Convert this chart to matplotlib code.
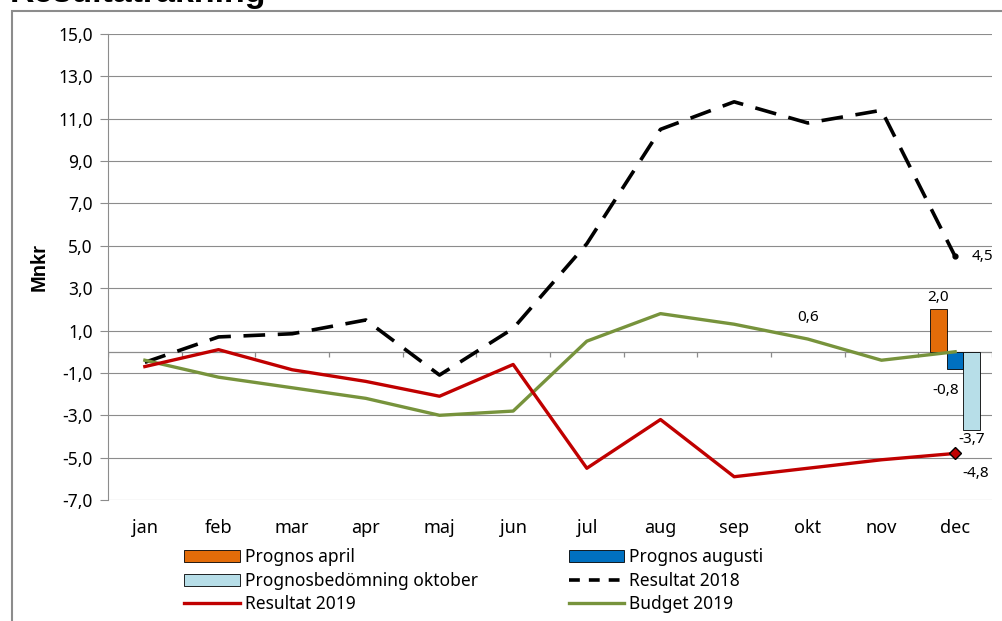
import numpy as np
import matplotlib.pyplot as plt
from matplotlib.patches import Patch, Rectangle
from matplotlib.lines import Line2D

# data
months = ["jan", "feb", "mar", "apr", "maj", "jun", "jul", "aug", "sep", "okt", "nov", "dec"]
resultat_2018 = [-0.5, 0.7, 0.85, 1.5, -1.1, 1.1, 5.1, 10.5, 11.8, 10.8, 11.4, 4.5]
resultat_2019 = [-0.7, 0.1, -0.85, -1.4, -2.1, -0.6, -5.5, -3.2, -5.9, -5.5, -5.1, -4.8]
budget_2019 = [-0.4, -1.2, -1.7, -2.2, -3.0, -2.8, 0.5, 1.8, 1.3, 0.6, -0.4, 0.0]
prognos_april = 2.0
prognos_augusti = -0.8
prognos_oktober = -3.7

plt.rcParams['font.family'] = ['Noto Sans', 'DejaVu Sans']

fig = plt.figure(figsize=(10.03, 6.21), dpi=100)
ax = fig.add_axes([0.1077, 0.1948, 0.8813, 0.7504])

x = np.arange(len(months))

# grid
for v in np.arange(-7, 16, 2):
    ax.axhline(v, color="#8c8c8c", lw=0.8, zorder=0)
ax.axhline(0, color="#8c8c8c", lw=0.9, zorder=1)
bounds = np.arange(len(months) + 1) - 0.5
ax.vlines(bounds, -0.25, 0, color="#8c8c8c", lw=0.9, zorder=1)

# staplar i december
w = 0.225
d = x[-1]
ax.bar(d - w, prognos_april, w, color="#E36C09", edgecolor="black", lw=0.6, zorder=2)
ax.bar(d, prognos_augusti, w, color="#0070C0", edgecolor="black", lw=0.6, zorder=2)
ax.bar(d + w, prognos_oktober, w, color="#B7DEE8", edgecolor="black", lw=0.6, zorder=2)

# linjer
ax.plot(x, resultat_2018, color="black", lw=2.6, dashes=(6, 3.5), zorder=3)
ax.plot(x[-1], resultat_2018[-1], "o", color="black", ms=3.5, zorder=4)
ax.plot(x, budget_2019, color="#77933C", lw=2.4, zorder=3)
ax.plot(x, resultat_2019, color="#C00000", lw=2.4, zorder=3)
ax.plot(x[-1], resultat_2019[-1], "D", color="#C00000", mec="black", mew=1, ms=6, zorder=4)

def fmt(v):
    return f"{v:.1f}".replace(".", ",")

lab_kw = dict(fontsize=11, color="black", zorder=5)
ax.annotate(fmt(resultat_2018[-1]), (x[-1], resultat_2018[-1]), xytext=(12, 0),
            textcoords="offset points", va="center", ha="left", **lab_kw)
ax.annotate(fmt(prognos_april), (d - w, prognos_april), xytext=(0, 3),
            textcoords="offset points", va="bottom", ha="center", **lab_kw)
ax.annotate(fmt(prognos_augusti), (d, prognos_augusti), xytext=(-7, -10),
            textcoords="offset points", va="top", ha="center", **lab_kw)
ax.annotate(fmt(prognos_oktober), (d + w, prognos_oktober), xytext=(0, -1),
            textcoords="offset points", va="top", ha="center", **lab_kw)
ax.annotate(fmt(resultat_2019[-1]), (x[-1], resultat_2019[-1]), xytext=(15, -9),
            textcoords="offset points", va="top", ha="center", **lab_kw)
ax.annotate(fmt(budget_2019[9]), (x[9], budget_2019[9]), xytext=(0, 10),
            textcoords="offset points", va="bottom", ha="center", **lab_kw)

# axlar
ax.set_xlim(-0.5, len(months) - 0.5)
ax.set_ylim(-7, 15)
ax.set_yticks(np.arange(-7, 16, 2))
ax.set_yticklabels([fmt(v) for v in np.arange(-7, 16, 2)], fontsize=12.5)
ax.set_xticks(x)
ax.set_xticklabels(months, fontsize=13)
ax.tick_params(axis="x", length=0, pad=14)
ax.tick_params(axis="y", length=6, color="#8c8c8c", pad=5)
for s in ["top", "right", "bottom"]:
    ax.spines[s].set_visible(False)
ax.spines["left"].set_color("#8c8c8c")
ax.set_ylabel("Mnkr", fontsize=14.5, fontweight="bold", family="Liberation Sans", labelpad=7)

# legend
handles = [
    Patch(facecolor="#E36C09", edgecolor="black", lw=0.6, label="Prognos april"),
    Patch(facecolor="#B7DEE8", edgecolor="black", lw=0.6, label="Prognosbedömning oktober"),
    Line2D([], [], color="#C00000", lw=2.4, label="Resultat 2019"),
    Patch(facecolor="#0070C0", edgecolor="black", lw=0.6, label="Prognos augusti"),
    Line2D([], [], color="black", lw=2.6, dashes=(3, 2.5), label="Resultat 2018"),
    Line2D([], [], color="#77933C", lw=2.4, label="Budget 2019"),
]
fig.legend(handles=handles, ncol=2, loc="upper left", bbox_to_anchor=(0.177, 0.128),
           frameon=False, fontsize=12.5, handlelength=3.2, handleheight=0.7,
           labelspacing=0.3, columnspacing=5.2, handletextpad=0.3, borderaxespad=0)

# ram och avskuren rubrik
fig.add_artist(Rectangle((12 / 1003, -0.1), 1.0, 1 - 11 / 621 + 0.1, transform=fig.transFigure,
                         fill=False, edgecolor="#8c8c8c", lw=1.5))
fig.text(10 / 1003, 1 - 2 / 621, "Resultaträkning", fontsize=24.5, fontweight="bold",
         family="Liberation Sans", va="baseline", ha="left")

fig.savefig("out.png", dpi=100)
